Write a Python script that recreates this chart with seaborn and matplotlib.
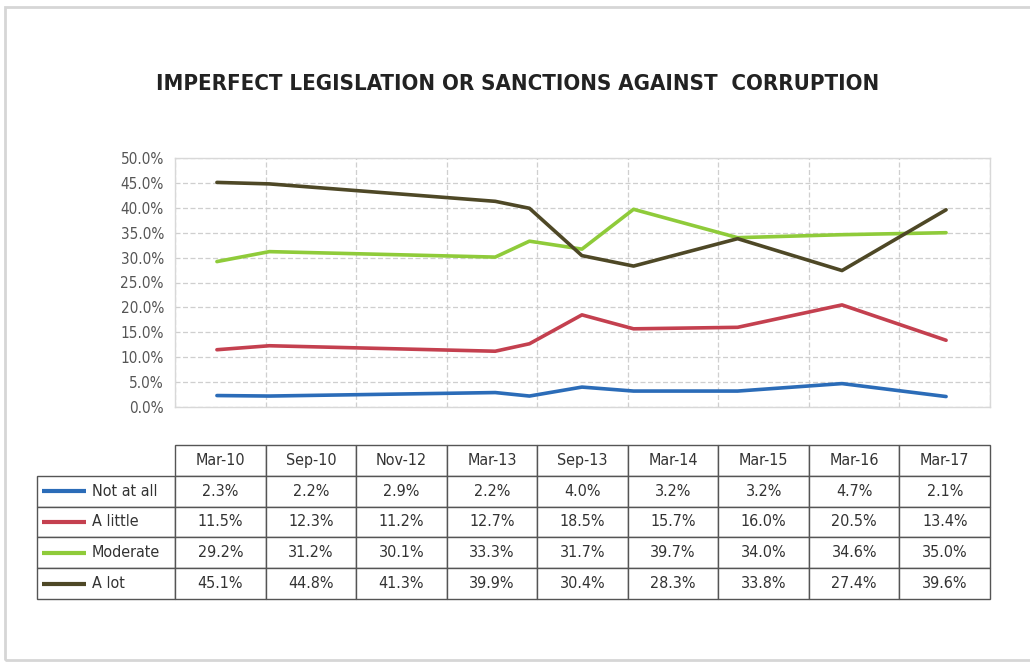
import numpy as np
import pandas as pd
import seaborn as sns
import matplotlib.pyplot as plt
import matplotlib.dates as mdates
from matplotlib import font_manager as fm

# survey waves and answers (percent)
periods = ['Mar-10', 'Sep-10', 'Nov-12', 'Mar-13', 'Sep-13', 'Mar-14', 'Mar-15', 'Mar-16', 'Mar-17']
dates = ['2010-03-01', '2010-09-01', '2012-11-01', '2013-03-01', '2013-09-01',
         '2014-03-01', '2015-03-01', '2016-03-01', '2017-03-01']
not_at_all = [2.3, 2.2, 2.9, 2.2, 4.0, 3.2, 3.2, 4.7, 2.1]
a_little = [11.5, 12.3, 11.2, 12.7, 18.5, 15.7, 16.0, 20.5, 13.4]
moderate = [29.2, 31.2, 30.1, 33.3, 31.7, 39.7, 34.0, 34.6, 35.0]
a_lot = [45.1, 44.8, 41.3, 39.9, 30.4, 28.3, 33.8, 27.4, 39.6]

series = {'Not at all': not_at_all, 'A little': a_little, 'Moderate': moderate, 'A lot': a_lot}
colors = {'Not at all': '#2b6cb8', 'A little': '#c4404f', 'Moderate': '#8fcb3a', 'A lot': '#4e4826'}

df = pd.DataFrame([
    {'date': pd.Timestamp(d), 'answer': name, 'value': v}
    for name, vals in series.items() for d, v in zip(dates, vals)
])

sns.set_style('white')

# look for a narrow face, otherwise fall back to Roboto
names = {f.name for f in fm.fontManager.ttflist}
cond = [f for f in fm.fontManager.ttflist if 'Condensed' in f.fname or 'Narrow' in f.fname]
print(sorted(names))
print([c.fname for c in cond])
if 'Liberation Sans Narrow' in names:
    fam, stretch = 'Liberation Sans Narrow', 'normal'
elif any(c.name == 'DejaVu Sans' for c in cond):
    fam, stretch = 'DejaVu Sans', 'condensed'
else:
    fam, stretch = 'Roboto', 'normal'
plt.rcParams['font.family'] = [fam, 'DejaVu Sans']
plt.rcParams['font.stretch'] = stretch

fig = plt.figure(figsize=(10.3, 6.64), dpi=100)
W, H = 1030, 664

# thin frame around the page
fig.patches.append(plt.Rectangle((5 / W, 4 / H), 1.2, (660 - 7) / H, transform=fig.transFigure,
                                 fill=False, edgecolor='#d6d6d6', linewidth=2))

ax = fig.add_axes([175 / W, 1 - 407 / H, 815 / W, 249 / H])
sns.lineplot(data=df, x='date', y='value', hue='answer', palette=colors,
             linewidth=2.6, legend=False, ax=ax)

x0 = mdates.date2num(pd.Timestamp('2009-10-05'))
x1 = mdates.date2num(pd.Timestamp('2017-08-02'))
ax.set_xlim(x0, x1)
ax.set_xticks(np.linspace(x0, x1, 10))
ax.set_xticklabels([])
ax.tick_params(axis='x', length=0)
ax.set_ylim(0, 50)
ax.set_yticks(np.arange(0, 51, 5))
ax.set_yticklabels([f'{t:.1f}%' for t in np.arange(0, 51, 5)], fontsize=11, color='#555555')
ax.tick_params(axis='y', length=0, pad=8)
ax.grid(True, linestyle=(0, (4, 2)), color='#cfcfcf', linewidth=0.9)
ax.set_xlabel('')
ax.set_ylabel('')
for s in ax.spines.values():
    s.set_color('#d8d8d8')
    s.set_linewidth(1)

title = fig.text(518 / W, 1 - 84 / H, 'IMPERFECT LEGISLATION OR SANCTIONS AGAINST  CORRUPTION',
                 ha='center', va='center', fontsize=20, fontweight='bold', color='#222222')
# fit the title to the width it has in the original
r = fig.canvas.get_renderer()
tw = title.get_window_extent(r).width
title.set_fontsize(min(22, 20 * 720 / tw))

# data table with legend keys
tax = fig.add_axes([37 / W, 1 - 599 / H, 953 / W, 154 / H])
tax.axis('off')
cell_text = [[''] + [f'{v:.1f}%' for v in vals] for vals in series.values()]
tbl = tax.table(cellText=cell_text, colLabels=[''] + periods,
                colWidths=[138 / 953] + [90.5 / 953] * 9,
                cellLoc='center', bbox=[0, 0, 1, 1])
tbl.auto_set_font_size(False)
for (r_, c), cell in tbl.get_celld().items():
    cell.set_edgecolor('#555555')
    cell.set_linewidth(1)
    cell.get_text().set_fontsize(11.5)
    cell.get_text().set_color('#333333')
tbl[0, 0].visible_edges = ''

for i, name in enumerate(series):
    yc = 1 - (i + 1.5) / 5
    tax.plot([5 / 953, 49 / 953], [yc, yc], color=colors[name], linewidth=3,
             solid_capstyle='butt', transform=tax.transAxes, clip_on=False)
    tax.text(55 / 953, yc, name, transform=tax.transAxes, ha='left', va='center',
             fontsize=11.5, color='#333333')

fig.savefig('out.png', dpi=100, facecolor='white')
